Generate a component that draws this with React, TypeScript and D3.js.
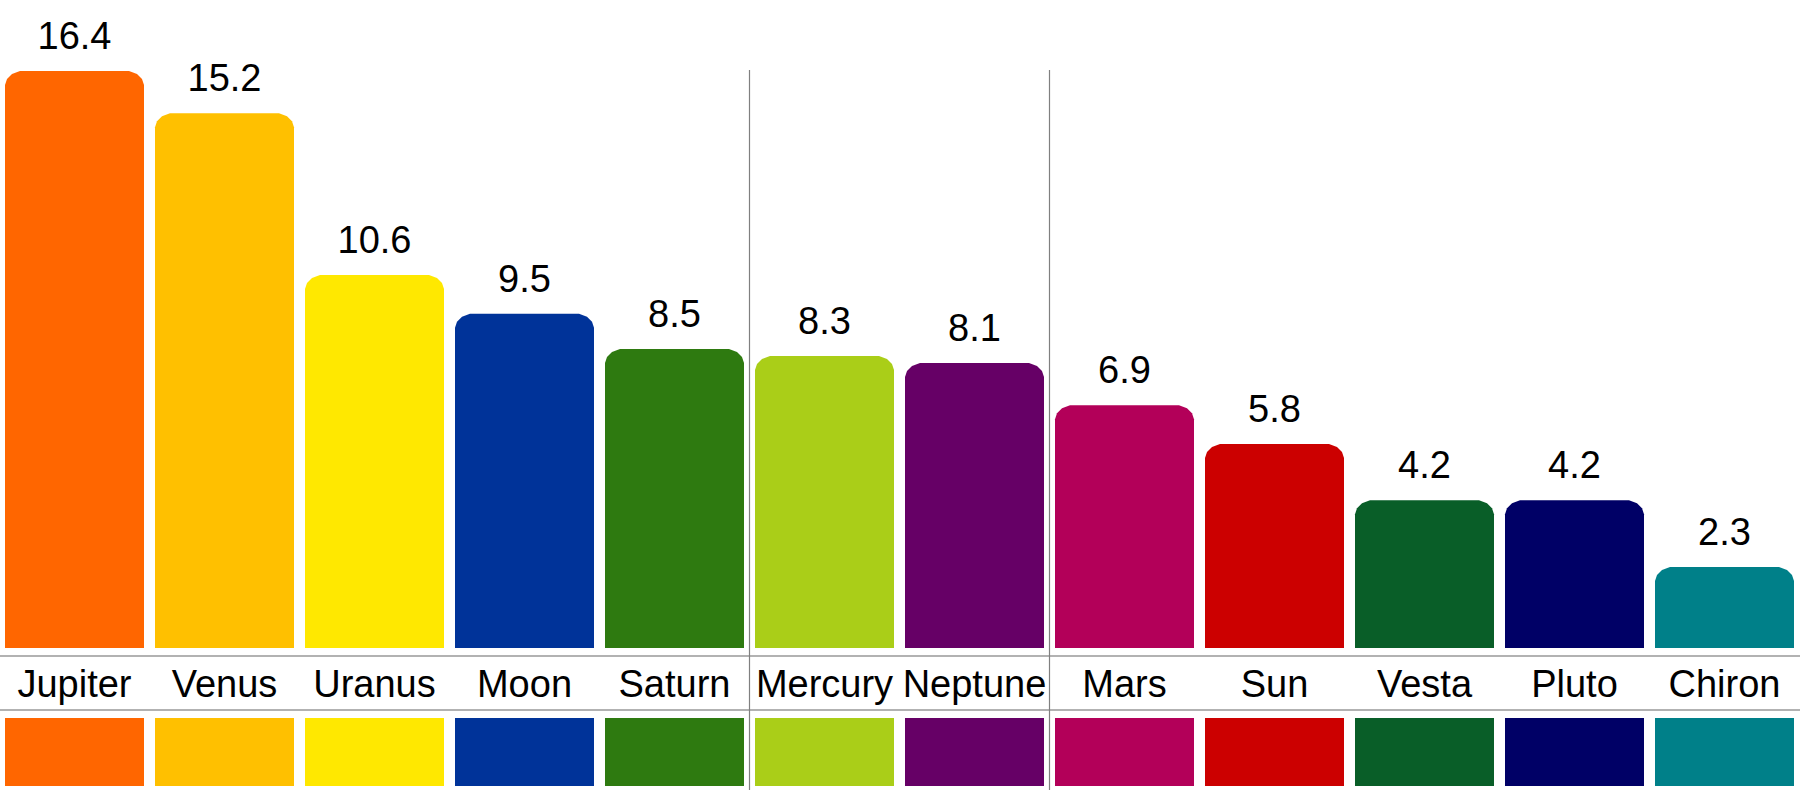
import React from "react";
import * as d3 from "d3";

const planets = ["Jupiter", "Venus", "Uranus", "Moon", "Saturn", "Mercury", "Neptune", "Mars", "Sun", "Vesta", "Pluto", "Chiron"];
const values = [16.4, 15.2, 10.6, 9.5, 8.5, 8.3, 8.1, 6.9, 5.8, 4.2, 4.2, 2.3];
const colors = ["#FF6600", "#FFC000", "#FFE800", "#003399", "#2E7A10", "#AACE18", "#660066", "#B30059", "#CC0000", "#095E28", "#000066", "#008089"];
const valueLabels = ["16.4", "15.2", "10.6", "9.5", "8.5", "8.3", "8.1", "6.9", "5.8", "4.2", "4.2", "2.3"];
const groupBreaks = ["Mercury", "Mars"];

const W = 1800;
const H = 790;
const FONT = "'Liberation Sans', Arial, sans-serif";

export default function App() {
  const x = d3.scaleBand<string>().domain(planets).range([5, 1794]).paddingInner(11 / 150).paddingOuter(0);
  const y = d3.scaleLinear().domain([0, 16.4]).range([648, 71]);
  const bw = x.bandwidth();
  const step = x.step();

  const barPath = (x0: number, top: number, bottom: number, w: number) => {
    const p = d3.path();
    p.moveTo(x0, bottom);
    p.lineTo(x0, top + 14);
    p.lineTo(x0 + 2, top + 8);
    p.lineTo(x0 + 7, top + 3);
    p.lineTo(x0 + 15, top);
    p.lineTo(x0 + w - 15, top);
    p.lineTo(x0 + w - 7, top + 3);
    p.lineTo(x0 + w - 2, top + 8);
    p.lineTo(x0 + w, top + 14);
    p.lineTo(x0 + w, bottom);
    p.closePath();
    return p.toString();
  };

  return (
    <svg width={W} height={H} style={{ position: "absolute", left: 0, top: 0, background: "#fff" }}>
      {planets.map((name, i) => {
        const x0 = x(name)!;
        const top = y(values[i]);
        return (
          <g key={name}>
            <path d={barPath(x0, top, y(0), bw)} fill={colors[i]} />
            <text x={x0 + bw / 2} y={top - 22} textAnchor="middle" fontFamily={FONT} fontSize={38} fill="#000">
              {valueLabels[i]}
            </text>
            <text x={x0 + bw / 2} y={697} textAnchor="middle" fontFamily={FONT} fontSize={38} fill="#000">
              {name}
            </text>
            <rect x={x0} y={718} width={bw} height={68} fill={colors[i]} />
          </g>
        );
      })}
      <line x1={0} x2={W} y1={656} y2={656} stroke="#999" strokeWidth={1.5} />
      <line x1={0} x2={W} y1={710} y2={710} stroke="#999" strokeWidth={1.5} />
      {groupBreaks.map((name) => {
        const xs = x(name)! - (step - bw) / 2;
        return <line key={name} x1={xs} x2={xs} y1={70} y2={H} stroke="#808080" strokeWidth={1.2} />;
      })}
    </svg>
  );
}
